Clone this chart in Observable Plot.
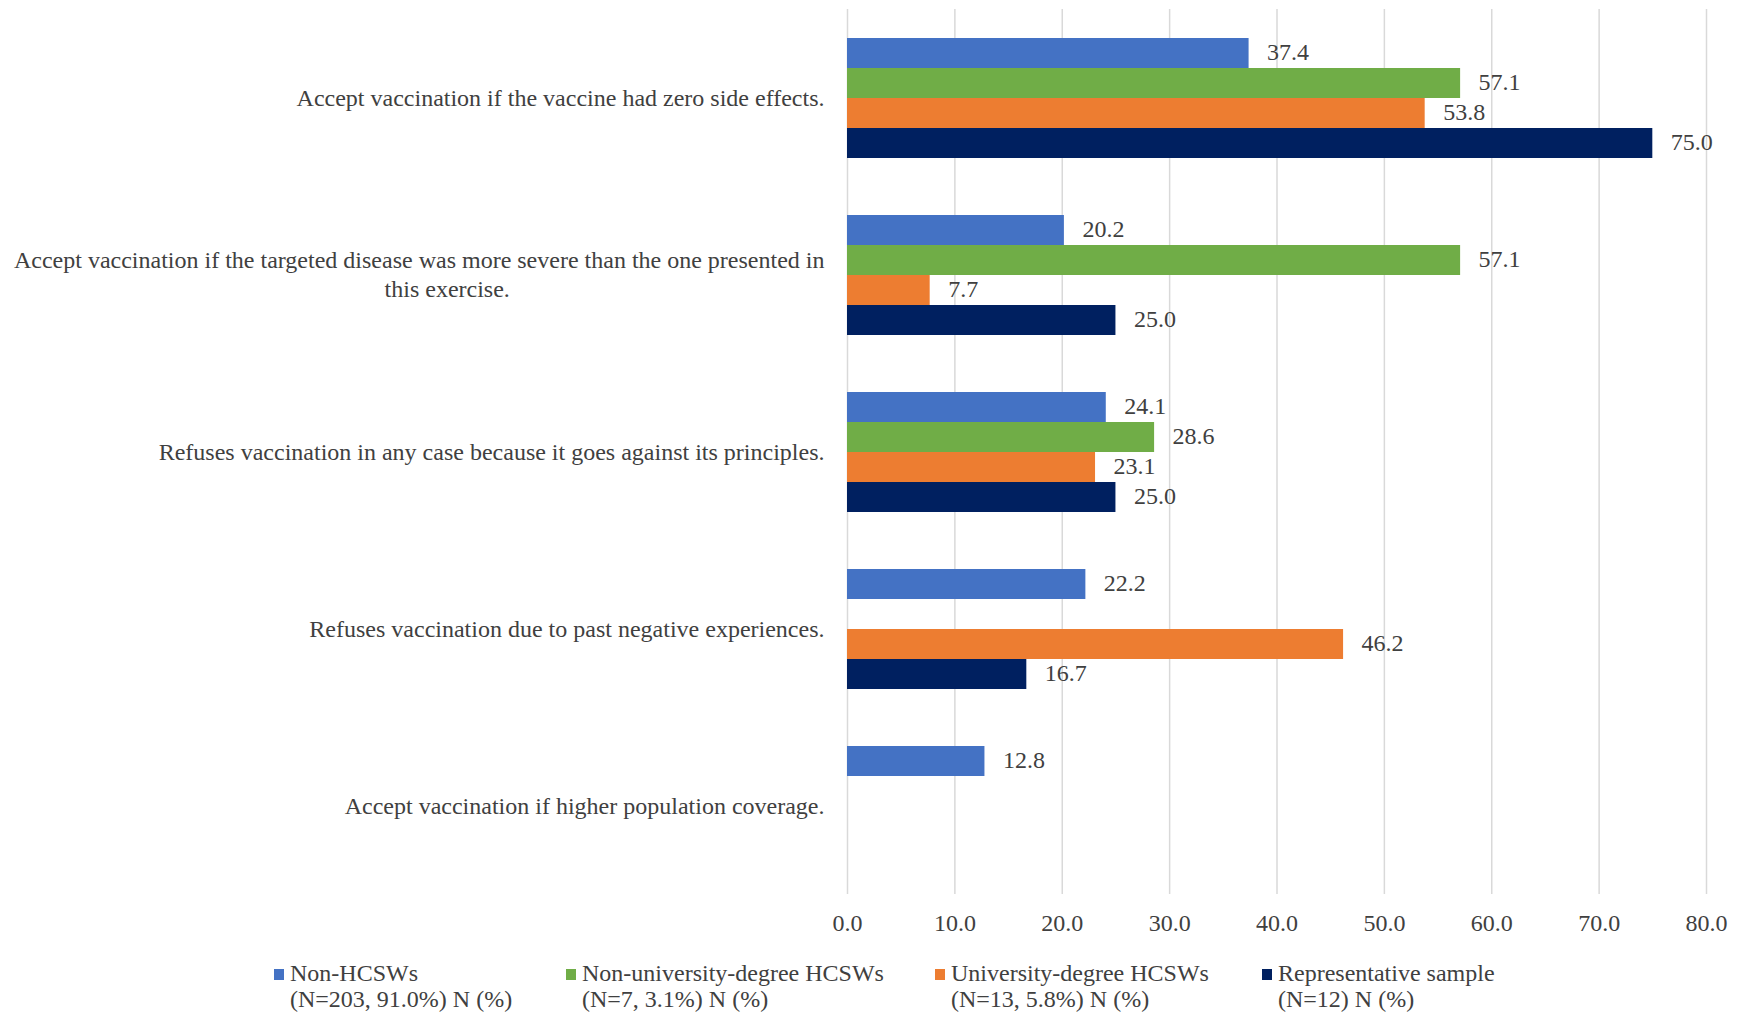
<!DOCTYPE html>
<html>
<head>
<meta charset="utf-8">
<script src="https://cdn.jsdelivr.net/npm/d3@7"></script>
<script src="https://cdn.jsdelivr.net/npm/@observablehq/plot@0.6"></script>
<style>
  html, body { margin: 0; padding: 0; background: #fff; }
  #wrap { position: relative; width: 1740px; height: 1014px; font-family: "Liberation Serif", "Times New Roman", serif; color: #404040; }
  #legend { position: absolute; top: 960px; left: 0; width: 1740px; height: 54px; font-size: 24px; line-height: 26px; }
  .item { position: absolute; top: 0; }
  .sw { position: absolute; left: 0; top: 9px; width: 10px; height: 11px; }
  .txt { position: absolute; left: 16px; top: 0; white-space: nowrap; }
</style>
</head>
<body>
<div id="wrap">
  <div id="chart"></div>
  <div id="legend"></div>
</div>
<script>
const categories = [
  "Accept vaccination if the vaccine had zero side effects.",
  "Accept vaccination if the targeted disease was more severe than the one presented in\nthis exercise.",
  "Refuses vaccination in any case because it goes against its principles.",
  "Refuses vaccination due to past negative experiences.",
  "Accept vaccination if higher population coverage."
];
const seriesNames = [
  "Non-HCSWs",
  "Non-university-degree HCSWs",
  "University-degree HCSWs",
  "Representative sample"
];
const seriesSub = [
  "(N=203, 91.0%) N (%)",
  "(N=7, 3.1%) N (%)",
  "(N=13, 5.8%) N (%)",
  "(N=12) N (%)"
];
const colors = ["#4472C4", "#70AD47", "#ED7D31", "#002060"];
const nonHCSWs = [37.4, 20.2, 24.1, 22.2, 12.8];
const nonUnivHCSWs = [57.1, 57.1, 28.6, null, null];
const univHCSWs = [53.8, 7.7, 23.1, 46.2, null];
const representative = [75.0, 25.0, 25.0, 16.7, null];
const xTicks = [0, 10, 20, 30, 40, 50, 60, 70, 80];

const seriesValues = [nonHCSWs, nonUnivHCSWs, univHCSWs, representative];
const rows = [];
categories.forEach((c, i) => {
  seriesNames.forEach((s, j) => {
    const v = seriesValues[j][i];
    if (v != null) rows.push({category: c, series: s, value: v});
  });
});

const chart = Plot.plot({
  width: 1740,
  height: 945,
  marginLeft: 847,
  marginRight: 34,
  marginTop: 9,
  marginBottom: 51,
  style: {fontFamily: "Liberation Serif, Times New Roman, serif", fontSize: "24px", color: "#404040", background: "#fff"},
  x: {domain: [0, 80], ticks: xTicks, tickFormat: d => d.toFixed(1), tickSize: 0, tickPadding: 19, label: null},
  fy: {domain: categories, padding: 0, axis: null},
  y: {domain: seriesNames, paddingInner: 0, paddingOuter: 0.9, axis: null},
  color: {domain: seriesNames, range: colors},
  marks: [
    Plot.gridX(xTicks, {stroke: "#d9d9d9", strokeOpacity: 1, strokeWidth: 1.5}),
    Plot.barX(rows, {x: "value", y: "series", fy: "category", fill: "series"}),
    Plot.text(rows, {x: "value", y: "series", fy: "category", text: d => d.value.toFixed(1), textAnchor: "start", dx: 18, dy: -1.5, fill: "#404040", fontSize: 24}),
    Plot.text(categories, {fy: d => d, text: d => d, frameAnchor: "left", dx: -23, dy: -1.5, textAnchor: "end", lineAnchor: "middle", lineHeight: 1.17, fill: "#404040", fontSize: 24, lineWidth: 1000, className: "catlabel"})
  ]
});
document.getElementById("chart").appendChild(chart);

// center the continuation line of multi-line category labels under the first line
chart.querySelectorAll(".catlabel text").forEach(t => {
  const spans = t.querySelectorAll("tspan");
  if (spans.length > 1) {
    const w = spans[0].getComputedTextLength();
    t.setAttribute("text-anchor", "middle");
    t.style.textAnchor = "middle";
    spans[0].setAttribute("x", -w / 2);
    for (let k = 1; k < spans.length; k++) spans[k].setAttribute("x", -w / 2 + 28);
  }
});

const legend = document.getElementById("legend");
const lefts = [274, 566, 935, 1262];
seriesNames.forEach((s, i) => {
  const item = document.createElement("div");
  item.className = "item";
  item.style.left = lefts[i] + "px";
  item.innerHTML = `<div class="sw" style="background:${colors[i]}"></div><div class="txt">${s}<br>${seriesSub[i]}</div>`;
  legend.appendChild(item);
});
</script>
</body>
</html>
